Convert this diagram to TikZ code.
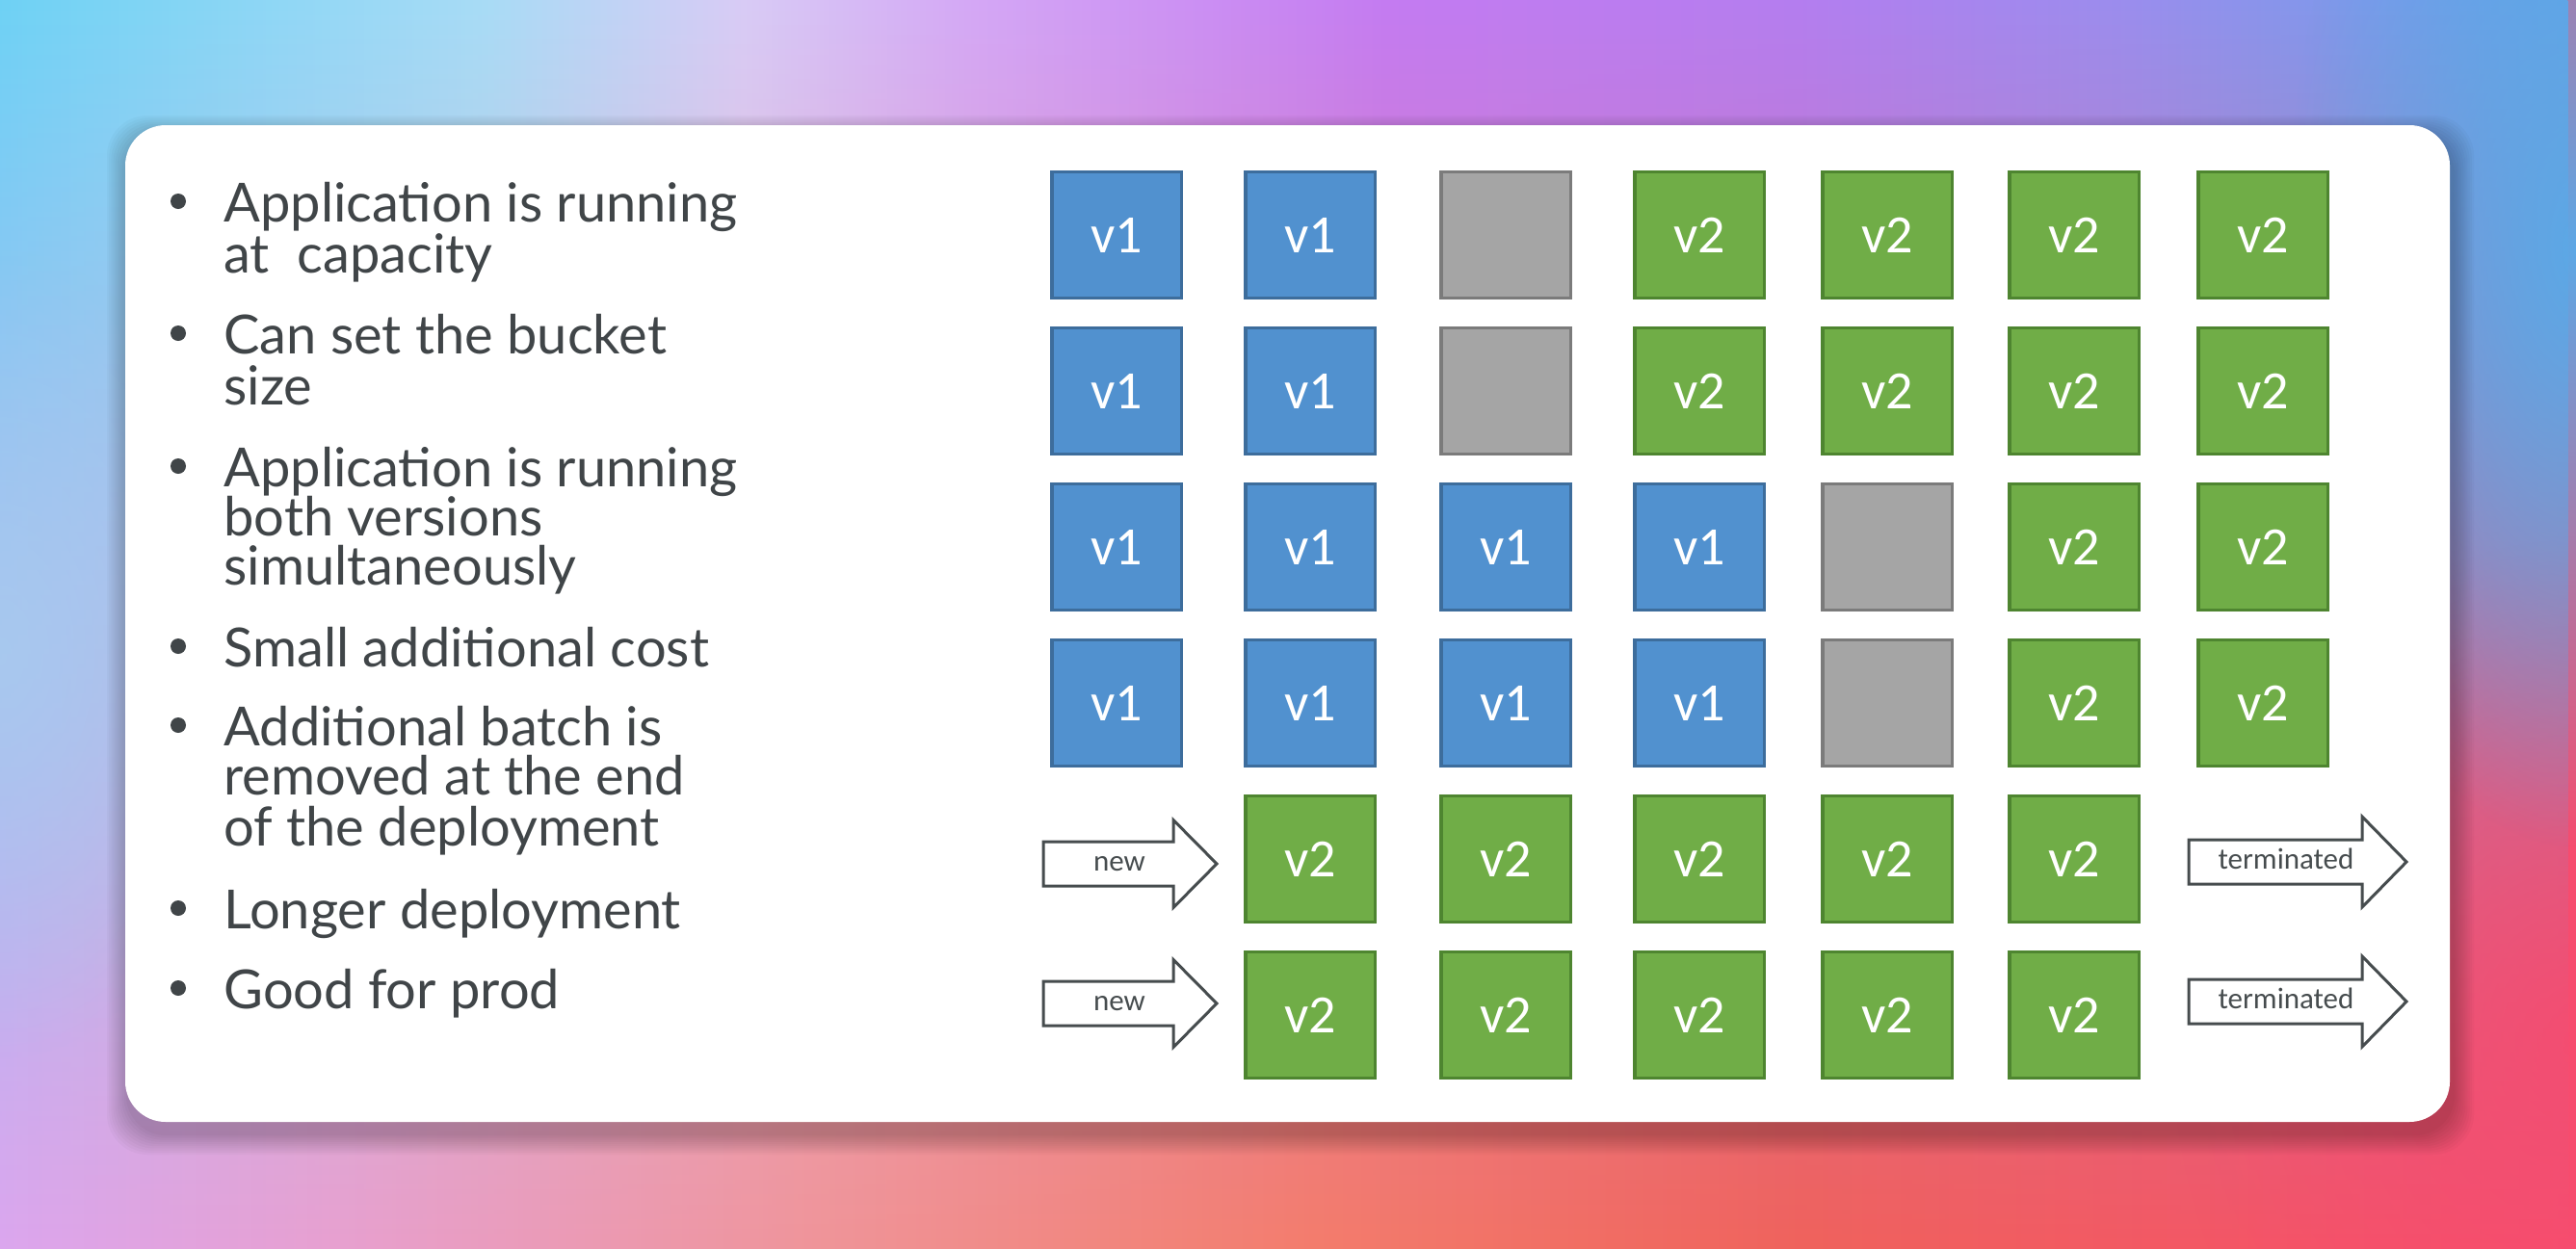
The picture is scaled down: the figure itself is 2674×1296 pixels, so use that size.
\documentclass[tikz,border=0pt]{standalone}
\usepackage{fontspec}
\setmainfont{Lato}
\newfontfamily\cellfont{Carlito}
\usetikzlibrary{fadings}

% ink and box colours
\definecolor{inktext}{HTML}{404548}
\definecolor{bluefill}{HTML}{5191CF}
\definecolor{blueline}{HTML}{3D6D9C}
\definecolor{greenfill}{HTML}{70AD47}
\definecolor{greenline}{HTML}{4E8530}
\definecolor{grayfill}{HTML}{A5A5A5}
\definecolor{grayline}{HTML}{7B7B7B}
\definecolor{arrowink}{HTML}{464C4E}

% backdrop colours, upper edge (left to right)
\definecolor{ta}{HTML}{6ED2F5}
\definecolor{tb}{HTML}{A8DCF6}
\definecolor{tc}{HTML}{D8CCF6}
\definecolor{td}{HTML}{D4A8F6}
\definecolor{te}{HTML}{C47CF2}
\definecolor{tf}{HTML}{B47EF0}
\definecolor{tg}{HTML}{9A8EEE}
\definecolor{th}{HTML}{64A4E8}
% backdrop colours, lower edge (left to right)
\definecolor{ba}{HTML}{DCA6EE}
\definecolor{bb}{HTML}{E8A0D0}
\definecolor{bc}{HTML}{F09498}
\definecolor{bd}{HTML}{F47C6C}
\definecolor{be}{HTML}{F0625C}
\definecolor{bf}{HTML}{F84E6C}
\definecolor{leftglow}{HTML}{A8CCEE}
\definecolor{rightblue}{HTML}{5CA8E6}
\definecolor{rightred}{HTML}{F64C70}

\pgfdeclarehorizontalshading{topband}{100bp}{color(0bp)=(ta); color(25bp)=(ta);
  color(34.5bp)=(tb); color(39.5bp)=(tc); color(44bp)=(td); color(52bp)=(te);
  color(60bp)=(tf); color(66.5bp)=(tg); color(75bp)=(th); color(100bp)=(th)}
\pgfdeclarehorizontalshading{bottomband}{100bp}{color(0bp)=(ba); color(25bp)=(ba);
  color(31.5bp)=(bb); color(41bp)=(bc); color(50.5bp)=(bd); color(60bp)=(be);
  color(75bp)=(bf); color(100bp)=(bf)}
\tikzfading[name=downfade, top color=transparent!0, middle color=transparent!75,
  bottom color=transparent!100]
\tikzfading[name=softspot, inner color=transparent!0, outer color=transparent!100]

\tikzset{
  line/.style={anchor=base west, inner sep=0pt, text=inktext,
    font=\fontsize{28}{34}\selectfont},
  dot/.style={circle, fill=inktext, minimum size=8pt, inner sep=0pt},
  cell/.style={minimum width=67.2pt, minimum height=65.5pt, inner sep=0pt,
    line width=1.7pt, text=white, font=\cellfont\fontsize{28}{30}\selectfont},
  cell one/.style={cell, fill=bluefill, draw=blueline},
  cell two/.style={cell, fill=greenfill, draw=greenline},
  cell idle/.style={cell, fill=grayfill, draw=grayline},
  blockarrow/.style={draw=arrowink, fill=white, line width=1.5pt, line join=miter},
  arrowlabel/.style={inner sep=0pt, text=arrowink,
    font=\cellfont\fontsize{15.5}{17}\selectfont},
}

\begin{document}
\begin{tikzpicture}[x=0.5pt, y=-0.5pt]
\useasboundingbox (0,0) rectangle (2674,1296);

% gradient backdrop
\shade[shading=bottomband] (0,0) rectangle (2674,1296);
\shade[shading=topband, path fading=downfade] (0,0) rectangle (2674,1296);
\fill[leftglow, path fading=softspot, opacity=0.8] (0,680) ellipse (260 and 420);
\fill[rightred, path fading=softspot, opacity=0.9] (2674,1080) ellipse (420 and 520);
\fill[rightblue, path fading=softspot] (2674,260) ellipse (300 and 620);

% soft shadow under the card
\foreach \i in {1,...,10} {
  \pgfmathsetmacro\grow{\i*2.2}
  \fill[black, opacity=0.022, rounded corners=21pt]
    (130-\grow+3,130-\grow+12) rectangle (2543+\grow+3,1165+\grow+12);
}

% white card
\node[fill=white, rounded corners=21pt, minimum width=1206.5pt,
  minimum height=517.5pt, inner sep=0pt] (card) at (1336.5,647.5) {};

% bullet list
\node[line] (l1a) at (232,230) {Application is running};
\node[line] (l1b) at (232,283) {at\ \ capacity};
\node[line] (l2a) at (232,367) {Can set the bucket};
\node[line] (l2b) at (232,420) {size};
\node[line] (l3a) at (232,505) {Application is running};
\node[line] (l3b) at (232,556) {both versions};
\node[line] (l3c) at (232,607) {simultaneously};
\node[line] (l4a) at (232,692) {Small additional cost};
\node[line] (l5a) at (232,774) {Additional batch is};
\node[line] (l5b) at (232,825) {removed at the end};
\node[line] (l5c) at (232,878) {of the deployment};
\node[line] (l6a) at (232,964) {Longer deployment};
\node[line] (l7a) at (232,1047) {Good for prod};
\foreach \yy [count=\i] in {230,367,505,692,774,964,1047}
  \node[dot] (dot\i) at (185,\yy-21) {};

% instance grid: rows 1--4
\foreach \k/\t [count=\c] in {one/v1,one/v1,idle/{},two/v2,two/v2,two/v2,two/v2} {
  \pgfmathsetmacro\xx{{1159,1360,1563,1764,1959,2153,2349}[\c-1]}
  \node[cell \k] (r1c\c) at (\xx,244) {\t};
}
\foreach \k/\t [count=\c] in {one/v1,one/v1,idle/{},two/v2,two/v2,two/v2,two/v2} {
  \pgfmathsetmacro\xx{{1159,1360,1563,1764,1959,2153,2349}[\c-1]}
  \node[cell \k] (r2c\c) at (\xx,406) {\t};
}
\foreach \k/\t [count=\c] in {one/v1,one/v1,one/v1,one/v1,idle/{},two/v2,two/v2} {
  \pgfmathsetmacro\xx{{1159,1360,1563,1764,1959,2153,2349}[\c-1]}
  \node[cell \k] (r3c\c) at (\xx,568) {\t};
}
\foreach \k/\t [count=\c] in {one/v1,one/v1,one/v1,one/v1,idle/{},two/v2,two/v2} {
  \pgfmathsetmacro\xx{{1159,1360,1563,1764,1959,2153,2349}[\c-1]}
  \node[cell \k] (r4c\c) at (\xx,730) {\t};
}
% extra batch: rows 5--6
\foreach \xx [count=\c from 2] in {1360,1563,1764,1959,2153} {
  \node[cell two] (r5c\c) at (\xx,892) {v2};
  \node[cell two] (r6c\c) at (\xx,1054) {v2};
}

% "new" block arrows
\coordinate (new5) at (1083,897);
\coordinate (new6) at (1083,1042);
\foreach \a in {new5,new6}
  \draw[blockarrow, shift={(\a)}] (0,-23) -- (135,-23) -- (135,-45.5) -- (180,0)
    -- (135,45.5) -- (135,23) -- (0,23) -- cycle;
\node[arrowlabel] (newlbl5) at (1162,897) {new};
\node[arrowlabel] (newlbl6) at (1162,1042) {new};

% "terminated" block arrows
\coordinate (end5) at (2272,895);
\coordinate (end6) at (2272,1040);
\foreach \a in {end5,end6}
  \draw[blockarrow, shift={(\a)}] (0,-23) -- (180,-23) -- (180,-47) -- (226,0)
    -- (180,47) -- (180,23) -- (0,23) -- cycle;
\node[arrowlabel] (endlbl5) at (2373,892) {terminated};
\node[arrowlabel] (endlbl6) at (2373,1037) {terminated};

\end{tikzpicture}
\end{document}
